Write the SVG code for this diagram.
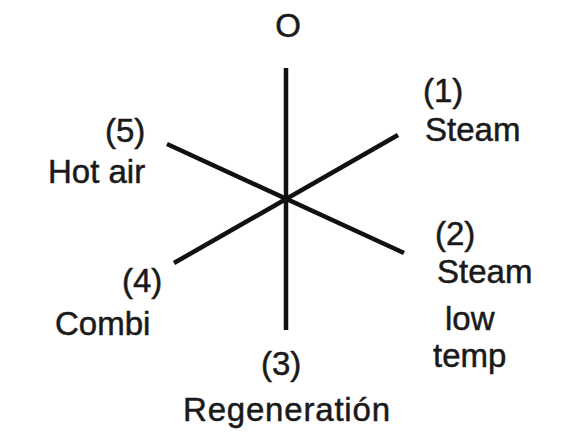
<svg xmlns="http://www.w3.org/2000/svg" width="561" height="439" viewBox="0 0 561 439">
<style>
.t{font-family:"Liberation Sans",Arial,sans-serif;font-size:33px;fill:#1a1a1a;stroke:#1a1a1a;stroke-width:0.5}
.l{stroke:#111;stroke-width:4.5;stroke-linecap:butt;fill:none}
</style>
<rect width="561" height="439" fill="#fff"/>
<g id="connectors">
<line class="l" x1="286" y1="68" x2="286" y2="330"/>
<line class="l" x1="167" y1="144" x2="404" y2="253"/>
<line class="l" x1="174" y1="263" x2="398" y2="135"/>
</g>
<g id="node-o"><text class="t" x="288" y="37" text-anchor="middle">O</text></g>
<g id="node-1"><text class="t" x="423" y="102">(1)</text><text class="t" x="425" y="141">Steam</text></g>
<g id="node-2"><text class="t" x="435" y="245">(2)</text><text class="t" x="437" y="283">Steam</text><text class="t" x="445" y="330">low</text><text class="t" x="433" y="367">temp</text></g>
<g id="node-3"><text class="t" x="261" y="375">(3)</text><text class="t" x="183" y="421" textLength="207">Regeneratión</text></g>
<g id="node-4"><text class="t" x="122" y="292">(4)</text><text class="t" x="55" y="335">Combi</text></g>
<g id="node-5"><text class="t" x="105" y="142">(5)</text><text class="t" x="48" y="183">Hot air</text></g>
</svg>
